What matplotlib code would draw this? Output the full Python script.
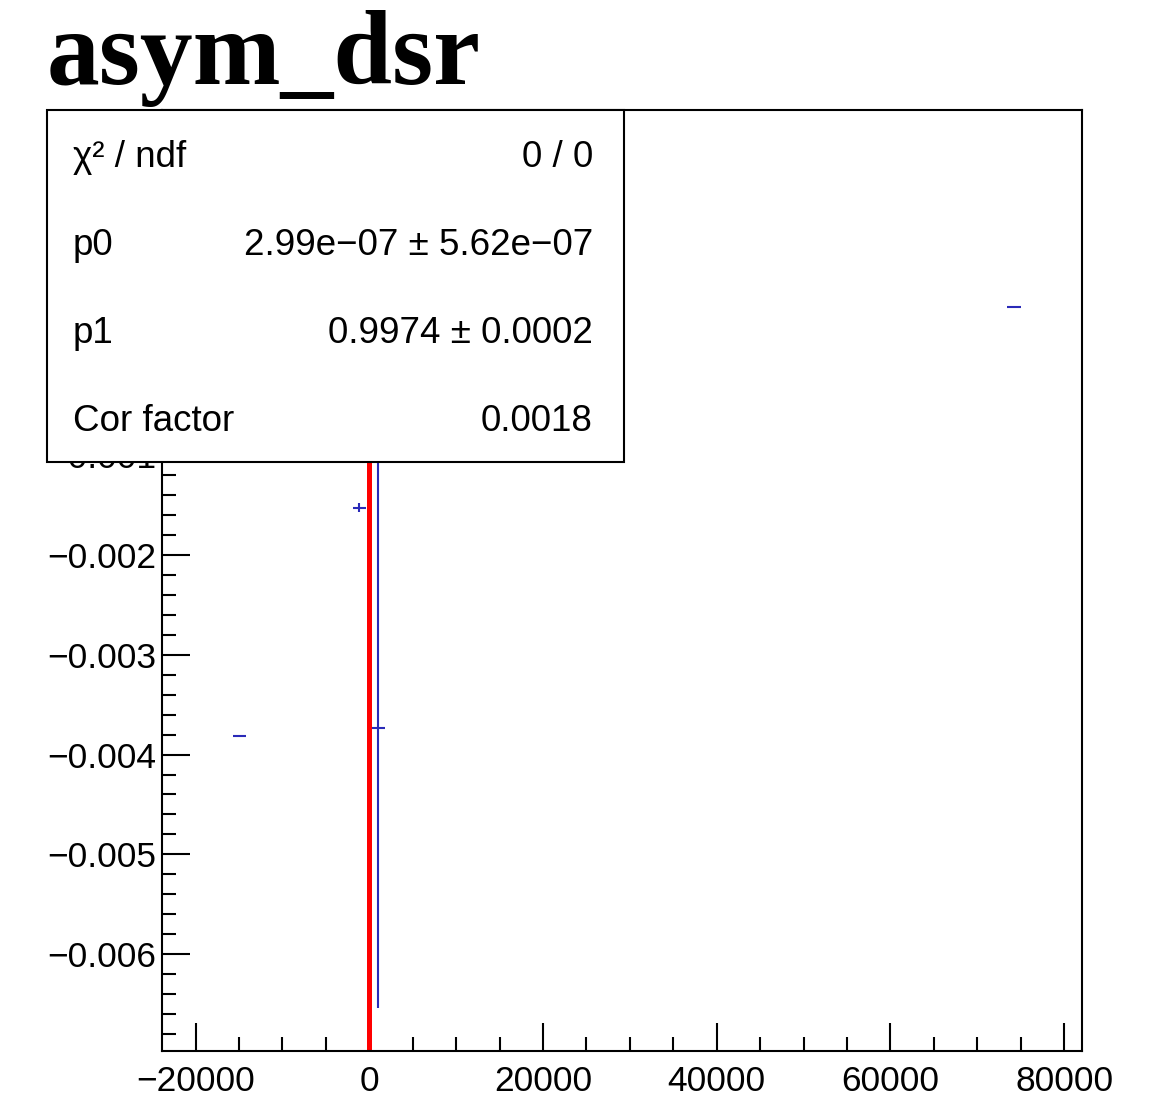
import numpy as np
import matplotlib
matplotlib.use("Agg")
import matplotlib.pyplot as plt
from matplotlib.ticker import MultipleLocator, FuncFormatter
from matplotlib.patches import Rectangle

# ---- data ----
x_vals = [-14970, -1150, 1040, 74230]
y_vals = [-0.003817, -0.00153, -0.003733, 0.000477]
x_errs = [770, 770, 770, 770]
y_errs = [0.0, 0.000045, 0.002807, 0.0]

p0 = 2.99e-07
p1 = 0.9974
stat_labels = ["\u03c7\u00b2 / ndf", "p0", "p1", "Cor factor"]
stat_values = ["0 / 0", "2.99e\u221207 \u00b1 5.62e\u221207", "0.9974 \u00b1 0.0002", "0.0018"]
title = "asym_dsr"

W, H = 1153, 1107
fig = plt.figure(figsize=(W / 100, H / 100), dpi=100)
fig.patch.set_facecolor("white")

ax_l, ax_r, ax_t, ax_b = 162, 1082, 110, 1051
ax = fig.add_axes([ax_l / W, 1 - ax_b / H, (ax_r - ax_l) / W, (ax_b - ax_t) / H])
ax.set_xlim(-23870, 82060)
ax.set_ylim(-0.006967, 0.00245)

blue = "#2a2ab8"
# fit function (nearly vertical on this scale)
xf = np.linspace(-0.0080, 0.0030, 50)
ax.plot(xf, p0 + p1 * xf, color="red", lw=3.6, zorder=2)

ax.errorbar(x_vals, y_vals, xerr=x_errs, yerr=y_errs, fmt="none",
            ecolor=blue, elinewidth=1.5, capsize=0, zorder=3)

for s in ax.spines.values():
    s.set_linewidth(1.5)
    s.set_color("black")

ax.xaxis.set_major_locator(MultipleLocator(20000))
ax.xaxis.set_minor_locator(MultipleLocator(5000))
ax.yaxis.set_major_locator(MultipleLocator(0.001))
ax.yaxis.set_minor_locator(MultipleLocator(0.0002))

def fx(v, pos):
    s = "%d" % int(round(v))
    return s.replace("-", "\u2212")

def fy(v, pos):
    if abs(v) < 1e-12:
        return "0"
    return ("%.3f" % v).replace("-", "\u2212")

ax.xaxis.set_major_formatter(FuncFormatter(fx))
ax.yaxis.set_major_formatter(FuncFormatter(fy))

ax.tick_params(which="both", direction="in", top=False, right=False, width=1.5, color="black")
ax.tick_params(which="major", length=20)
ax.tick_params(which="minor", length=10)
ax.tick_params(axis="x", which="major", pad=10, labelsize=25.5)
ax.tick_params(axis="y", which="major", pad=4, labelsize=25.5)
for lab in ax.get_xticklabels() + ax.get_yticklabels():
    lab.set_family("Liberation Sans")

# title
fig.text(47 / W, 1 - 84 / H, title, ha="left", va="baseline",
         fontsize=76, fontweight="bold", family="Liberation Serif")

# stats box
bx_l, bx_r, bx_t, bx_b = 47, 624, 110, 462
box = Rectangle((bx_l / W, 1 - bx_b / H), (bx_r - bx_l) / W, (bx_b - bx_t) / H,
                transform=fig.transFigure, facecolor="white", edgecolor="black",
                linewidth=1.5, zorder=5)
fig.add_artist(box)
row_h = (bx_b - bx_t) / len(stat_labels)
for i, (lab, val) in enumerate(zip(stat_labels, stat_values)):
    yc = bx_t + row_h * (i + 0.5)
    yb = yc + 13
    fig.text(73 / W, 1 - yb / H, lab, ha="left", va="baseline", fontsize=26.5,
             family="Liberation Sans", zorder=6)
    fig.text(593 / W, 1 - yb / H, val, ha="right", va="baseline", fontsize=26.5,
             family="Liberation Sans", zorder=6)

fig.savefig("out.png", dpi=100, facecolor="white")
